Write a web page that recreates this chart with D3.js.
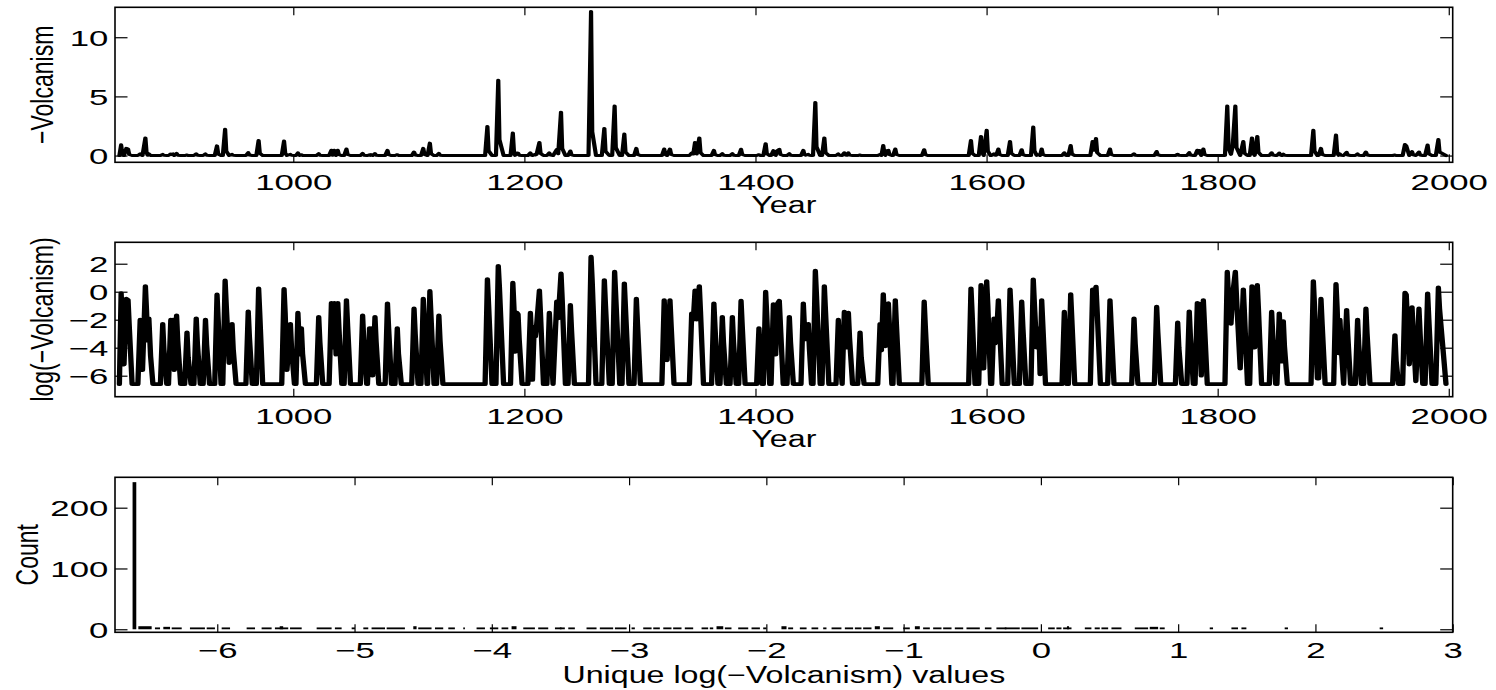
<!DOCTYPE html>
<html><head><meta charset="utf-8">
<script src="https://cdn.jsdelivr.net/npm/d3@7"></script>
<style>body{margin:0;background:#fff}svg{display:block}</style>
</head><body><svg id="c" width="1496" height="690"></svg>
<script>
// log(-Volcanism) series: [year, value] vertices
const logSeries = [
[849.5,-6.6],[851,-0.1],[852,-2.0],[853.5,-5.2],[855.5,-0.5],[857,-0.6],[858,-2.4],[860.5,-6.6],
[865.5,-6.6],[867.5,-2.0],[868.5,-3.5],[869.5,-5.6],[872,0.4],[873,-1.4],[874,-3.5],[875,-1.9],[876.5,-4.6],[878.5,-6.6],
[885,-6.6],[887,-2.3],[888,-4.1],[890.5,-6.6],
[892,-6.6],[894,-2.0],[895,-2.6],[896,-2.0],[897,-5.6],[899,-1.7],[900,-3.5],[902.5,-6.6],
[906,-6.6],[908,-2.9],[909,-4.7],[911.5,-6.6],
[914,-6.6],[916,-1.9],[917,-3.7],[919.5,-6.6],
[922,-6.6],[924,-2.0],[925,-3.8],[927.5,-6.6],
[932,-6.6],[934,-0.2],[935,-2.0],[937.5,-6.6],
[939,-6.6],[941,0.8],[942,-1.0],[944.5,-5.1],[947,-2.3],[948,-4.1],[950.5,-6.6],
[959,-6.6],[961,-1.4],[962,-3.2],[964.5,-6.6],
[968,-6.6],[970,0.24],[971,-1.6],[973.5,-6.6],
[990,-6.6],[992,0.2],[993,-1.6],[994.5,-5.6],[997.5,-2.3],[998.5,-4.1],[1001,-6.6],
[1002.3,-6.6],[1004,-1.5],[1005.5,-4.5],[1007,-2.6],[1008,-4.4],[1010.5,-6.6],
[1020,-6.6],[1022,-1.8],[1023,-3.6],[1025.5,-6.6],
[1031,-6.6],[1033,-0.8],[1034,-4.0],[1035.5,-0.8],[1037,-4.5],[1038.5,-0.8],[1039.5,-2.6],[1042,-6.6],
[1044,-6.6],[1046,-0.6],[1047,-2.4],[1049.5,-6.6],
[1058,-6.6],[1060,-1.7],[1061,-3.5],[1063.5,-6.6],
[1064.2,-6.6],[1066,-2.6],[1066.7,-3.8],[1067.3,-2.6],[1068.7,-6.0],[1070.7,-1.8],[1071.7,-3.6],[1074,-6.6],
[1079.5,-6.6],[1081.5,-0.83],[1082.5,-2.6],[1085,-6.6],
[1088,-6.6],[1090,-2.6],[1091,-4.4],[1093.5,-6.6],
[1102.5,-6.6],[1104.5,-1.2],[1105.5,-3.0],[1108,-6.6],
[1110.5,-6.6],[1112.5,-0.5],[1113.5,-2.3],[1115.8,-6.6],[1116.2,-6.6],[1118.2,0.05],[1119.2,-1.8],[1121.8,-6.6],
[1124,-6.6],[1126,-1.7],[1127,-3.5],[1129.5,-6.6],
[1166,-6.6],[1168,0.9],[1169,-0.9],[1172,-6.6],
[1175.4,-6.6],[1177.4,1.85],[1178.4,0.3],[1182,-6.6],
[1188,-6.6],[1190,0.64],[1191,-1.2],[1192,-4.3],[1193.5,-1.5],[1194.5,-1.6],[1195.5,-3.4],[1198,-6.6],
[1203,-6.6],[1205.2,-1.5],[1206.2,-3.3],[1207,-6.3],[1208.5,-2.5],[1209.5,-3.2],[1210.5,-2.5],[1213,0.1],[1214,-1.7],[1216.5,-6.6],
[1219.5,-6.6],[1221.6,-1.5],[1222.6,-3.3],[1224.8,-6.6],[1228,-0.7],[1229.3,-1.9],[1231.7,1.3],[1232.7,-0.5],[1235.5,-6.6],
[1237.8,-6.6],[1239.8,-0.95],[1240.8,-2.75],[1243.3,-6.6],
[1255.5,-6.6],[1257.7,2.5],[1258.7,0.7],[1262,-6.6],
[1267,-6.6],[1269.2,0.83],[1270.2,-1.0],[1273.5,-6.6],
[1276,-6.6],[1278.1,1.43],[1279.1,-0.4],[1282.5,-6.6],
[1284.5,-6.6],[1286.5,0.6],[1287.5,-1.2],[1290.5,-6.6],
[1294.9,-6.6],[1296.9,-0.5],[1297.9,-2.3],[1300.4,-6.6],
[1319,-6.6],[1321,-0.6],[1322,-2.4],[1323.5,-4.9],[1326,-0.6],[1327,-2.4],[1329.5,-6.6],
[1342.8,-6.6],[1344.8,-1.55],[1346.2,-2.0],[1347.7,0.1],[1349.1,-2.0],[1351.4,0.4],[1352.4,-1.4],[1355,-6.6],
[1362,-6.6],[1364,-0.83],[1365,-2.6],[1367.5,-6.6],
[1369.3,-6.6],[1371.3,-1.8],[1372.3,-3.6],[1374.8,-6.6],
[1378,-6.6],[1380,-1.8],[1381,-3.6],[1383.3,-6.6],
[1385.5,-6.6],[1387.5,-0.64],[1388.5,-2.4],[1391,-6.6],
[1401,-6.6],[1403,-2.6],[1404,-4.4],[1405.5,-6.6],[1406.8,-6.6],[1408.8,0.0],[1409.8,-1.8],[1412.3,-6.6],[1413.5,-6.6],[1415.5,-0.88],[1416.5,-2.6],[1417.5,-4.5],[1418.7,-0.9],[1420.6,-0.64],[1421.6,-2.4],[1424,-6.6],
[1427.3,-6.6],[1429.3,-1.8],[1430.3,-3.6],[1432.8,-6.6],
[1439.4,-6.6],[1441.4,-0.83],[1442.4,-2.6],[1443.5,-3.4],[1445.7,-2.3],[1446.7,-4.1],[1448.5,-6.6],
[1449.8,-6.6],[1451.8,1.5],[1452.8,-0.3],[1456,-6.6],
[1457.6,-6.6],[1459.6,0.4],[1460.6,-1.4],[1463.5,-6.6],
[1469.7,-6.6],[1471.7,-2.0],[1472.7,-3.8],[1475,-6.6],[1476.9,-1.43],[1478,-3.2],[1479,-4.0],[1480.4,-1.5],[1481.4,-3.3],[1484,-6.6],
[1488.5,-6.6],[1490.5,-2.9],[1491.5,-4.7],[1494,-6.6],
[1505.8,-6.6],[1507.8,-2.3],[1509,-4.2],[1510.6,-0.17],[1511.6,-2.0],[1512.5,-3.9],[1513.5,-0.9],[1515,-0.83],[1516,-2.6],[1518,-6.6],
[1519,-6.6],[1521,-0.6],[1522,-2.4],[1524.5,-6.6],
[1544,-6.6],[1546,-0.7],[1547,-2.5],[1549.5,-6.6],
[1584.5,-6.6],[1586.5,0.24],[1587.5,-1.6],[1590,-6.6],
[1593.2,-6.6],[1595.2,0.48],[1596.2,-1.3],[1597.5,-5.5],[1600.1,0.76],[1601.1,-1.0],[1603.5,-6.6],[1604.4,-6.6],[1606.4,-1.9],[1607.4,-3.7],[1608.4,-3.5],[1610.2,-0.6],[1611.2,-2.4],[1613.5,-6.6],
[1618.3,-6.6],[1620.3,0.17],[1621.3,-1.6],[1624,-6.6],
[1628.4,-6.6],[1630.4,-0.7],[1631.4,-2.5],[1634,-6.6],
[1638.4,-6.6],[1640.4,0.88],[1641.4,-0.9],[1643.3,-4.0],[1645.3,-2.6],[1646.3,-5.9],[1647.7,-0.6],[1648.7,-2.4],[1651,-6.6],
[1665.3,-6.6],[1667.3,-1.43],[1668.3,-3.2],[1669.5,-6.6],[1670.8,-6.6],[1672.8,-0.17],[1673.8,-2.0],[1676.3,-6.6],
[1689.8,-6.6],[1691.8,0.17],[1693,-0.8],[1694.7,0.36],[1695.7,-1.4],[1698.5,-6.6],
[1704.8,-6.6],[1706.8,-0.6],[1707.8,-2.4],[1710.3,-6.6],
[1725.6,-6.6],[1727.6,-1.9],[1728.6,-3.7],[1731,-6.6],
[1745.2,-6.6],[1747.2,-1.07],[1748.2,-2.9],[1750.7,-6.6],
[1763.4,-6.6],[1765.4,-2.2],[1766.4,-4.0],[1768.9,-6.6],
[1773.4,-6.6],[1775.4,-1.4],[1776.4,-3.2],[1778.9,-6.6],
[1780.4,-6.6],[1782.4,-0.8],[1783.3,-1.6],[1784.1,-0.85],[1785.8,-6.0],[1787.6,-0.6],[1788.6,-2.4],[1791,-6.6],
[1806.3,-6.6],[1808.3,1.43],[1809.5,-0.5],[1811.5,-2.3],[1813,-0.2],[1815.3,1.43],[1816.3,-0.4],[1819.5,-5.5],[1822.2,0.17],[1823.2,-1.6],[1825.8,-6.6],[1827.7,-6.6],[1829.7,0.4],[1830.7,-1.4],[1832,-4.0],[1834.3,0.48],[1835.3,-1.3],[1838,-6.6],
[1844.7,-6.6],[1846.7,-1.43],[1847.7,-3.2],[1850.2,-6.6],
[1851.3,-6.6],[1853.3,-1.55],[1854.5,-3.4],[1855.5,-5.0],[1856.8,-2.1],[1857.8,-3.9],[1860.3,-6.6],
[1880.8,-6.6],[1882.8,0.76],[1883.8,-1.0],[1886.3,-6.2],[1887.4,-6.2],[1889.4,-0.5],[1890.4,-2.3],[1893,-6.6],
[1900.4,-6.6],[1902.4,0.55],[1903.4,-1.2],[1904.6,-4.4],[1905.8,-2.0],[1906.8,-3.8],[1909,-6.6],[1911.6,-1.3],[1912.6,-3.1],[1915,-6.6],
[1919.1,-6.6],[1921.1,-2.0],[1922.1,-3.8],[1924.5,-6.6],[1926.3,-6.6],[1928.3,-1.2],[1929.3,-3.0],[1931.8,-6.6],
[1951.4,-6.6],[1953.4,-3.1],[1954.4,-4.9],[1956.5,-6.6],
[1960.1,-6.6],[1962.1,-0.07],[1963.2,-0.2],[1965.8,-5.2],[1968.2,-1.1],[1969.2,-2.9],[1971.5,-6.4],[1974.2,-1.2],[1975.2,-3.0],[1977.5,-6.6],[1979.5,-6.6],[1981.7,-0.12],[1982.7,-1.9],[1985.5,-6.6],[1988.8,-6.6],[1991,0.3],[1992,-1.2],[1997.6,-6.6]
];

// histogram of unique log(-Volcanism) values: [from, to, count]
const histBins = [
[-6.617,-6.59,242],
[-6.575,-6.478,5],[-6.454,-6.417,3],[-6.393,-6.344,4],[-6.332,-6.259,3],[-6.199,-6.09,3],[-6.077,-6.017,3],
[-5.968,-5.907,3],[-5.786,-5.725,3],[-5.677,-5.604,3],[-5.58,-5.483,3],[-5.545,-5.52,5],[-5.47,-5.385,3],
[-5.276,-5.167,3],[-5.143,-5.094,3],[-5.021,-4.997,3],[-4.936,-4.9,3],[-4.876,-4.778,3],[-4.766,-4.633,3],
[-4.572,-4.548,5],[-4.536,-4.439,3],[-4.414,-4.354,3],[-4.317,-4.269,3],[-4.208,-4.196,3],[-4.111,-4.05,3],
[-4.014,-3.953,3],[-3.929,-3.88,3],[-3.856,-3.82,5],[-3.771,-3.686,3],[-3.662,-3.589,3],[-3.54,-3.492,3],
[-3.504,-3.468,3],[-3.443,-3.395,3],[-3.31,-3.237,3],[-3.213,-3.116,3],[-3.103,-3.018,3],[-2.982,-2.958,3],
[-2.897,-2.836,3],[-2.824,-2.776,3],[-2.751,-2.691,3],[-2.679,-2.618,3],[-2.594,-2.533,3],[-2.472,-2.424,3],
[-2.412,-2.387,3],[-2.363,-2.314,5],[-2.302,-2.254,3],[-2.205,-2.132,3],[-2.108,-2.047,3],[-2.023,-1.999,3],
[-1.89,-1.853,5],[-1.841,-1.805,3],[-1.756,-1.707,3],[-1.671,-1.622,3],[-1.586,-1.562,3],[-1.525,-1.453,3],
[-1.428,-1.368,3],[-1.355,-1.307,3],[-1.295,-1.234,3],[-1.21,-1.173,5],[-1.149,-1.076,3],[-1.003,-0.955,3],
[-0.918,-0.882,5],[-0.858,-0.809,3],[-0.785,-0.724,3],[-0.712,-0.651,3],[-0.627,-0.566,3],[-0.542,-0.445,3],
[-0.408,-0.36,3],[-0.324,-0.251,3],[-0.263,-0.154,3],[-0.142,-0.02,3],[0.053,0.101,3],[0.113,0.15,3],
[0.162,0.223,3],[0.19,0.205,5],[0.32,0.368,3],[0.392,0.429,3],[0.441,0.49,3],[0.514,0.587,3],
[0.684,0.781,3],[0.793,0.854,4],[0.866,0.902,3],[1.23,1.254,3],[1.388,1.436,3],[1.461,1.497,3],
[1.776,1.8,3],[2.468,2.493,3]
];

const yearTicks = [1000,1200,1400,1600,1800,2000];
const volcTicks = [0,5,10];
const logTicks = [-6,-4,-2,0,2];
const histXTicks = [-6,-5,-4,-3,-2,-1,0,1,2,3];
const histYTicks = [0,100,200];
const xTitleYear = "Year";
const yTitleTop = "\u2212Volcanism";
const yTitleMid = "log(\u2212Volcanism)";
const xTitleHist = "Unique log(\u2212Volcanism) values";
const yTitleHist = "Count";

const svg = d3.select('#c');
const FONT = '"Liberation Sans", Arial, Helvetica, sans-serif';
const TSX = 1.58, LSX = 1.4, SX = 1.4; // horizontal stretch of the original figure
const L = 115, R = 1452.7;
const P1 = [7.3, 162.3], P2 = [242.3, 396.7], P3 = [477.3, 632.3];

const xYear = d3.scaleLinear().domain([845.7, 2003.4]).range([L, R]);
const yTop = d3.scaleLinear().domain([-0.57, 12.53]).range([P1[1], P1[0]]);
const yMid = d3.scaleLinear().domain([-7.5, 3.53]).range([P2[1], P2[0]]);
const xHist = d3.scaleLinear().domain([-6.745, 3]).range([L, R]);
const yHist = d3.scaleLinear().domain([-5, 250]).range([P3[1], P3[0]]);

// data lines drawn inside a horizontally stretched group so the strokes are wider on vertical segments
const gs = svg.append('g').attr('transform', `scale(${SX},1)`);
gs.append('path').datum(logSeries)
  .attr('d', d3.line().x(d => xYear(d[0]) / SX).y(d => yTop(Math.exp(d[1]))))
  .attr('fill','none').attr('stroke','#000').attr('stroke-width',3).attr('stroke-linejoin','round').attr('stroke-linecap','round');
gs.append('path').datum(logSeries)
  .attr('d', d3.line().x(d => xYear(d[0]) / SX).y(d => yMid(d[1])))
  .attr('fill','none').attr('stroke','#000').attr('stroke-width',3.8).attr('stroke-linejoin','round').attr('stroke-linecap','round');
svg.append('g').selectAll('rect').data(histBins).join('rect')
  .attr('x', d => xHist(d[0])).attr('width', d => Math.max(1, xHist(d[1]) - xHist(d[0])))
  .attr('y', d => yHist(d[2])).attr('height', d => yHist(0) - yHist(d[2]))
  .attr('fill','#000');

function axes(x, y, p, xt, yt, xLabOff) {
  const tk = g => { g.select('.domain').remove(); g.selectAll('line').attr('stroke','#000').attr('stroke-width',1.2); g.attr('font-family',FONT).attr('font-size',22); };
  const b = svg.append('g').attr('transform',`translate(0,${p[1]})`)
    .call(d3.axisBottom(x).tickValues(xt).tickSizeInner(-8).tickSizeOuter(0).tickFormat(d3.format('d'))).call(tk);
  b.selectAll('text').attr('y', xLabOff).attr('dy', null).attr('fill','#000').attr('transform',`scale(${TSX},1)`);
  svg.append('g').attr('transform',`translate(0,${p[0]})`)
    .call(d3.axisTop(x).tickValues(xt).tickSizeInner(-8).tickSizeOuter(0).tickFormat('')).call(tk);
  const l = svg.append('g').attr('transform',`translate(${L},0)`)
    .call(d3.axisLeft(y).tickValues(yt).tickSizeInner(-12.5).tickSizeOuter(0).tickFormat(d3.format('d'))).call(tk);
  l.selectAll('text').attr('x', -6.7 / TSX).attr('dy','0.36em').attr('fill','#000').attr('transform',`scale(${TSX},1)`);
  svg.append('g').attr('transform',`translate(${R},0)`)
    .call(d3.axisRight(y).tickValues(yt).tickSizeInner(-12.5).tickSizeOuter(0).tickFormat('')).call(tk);
  svg.append('rect').attr('x',L).attr('y',p[0]).attr('width',R-L).attr('height',p[1]-p[0])
    .attr('fill','none').attr('stroke','#000').attr('stroke-width',1.6);
}
axes(xYear, yTop, P1, yearTicks, volcTicks, 27.7);
axes(xYear, yMid, P2, yearTicks, logTicks, 27.3);
axes(xHist, yHist, P3, histXTicks, histYTicks, 26);

function xTitle(t, yb) {
  svg.append('text').attr('transform',`translate(${(L+R)/2},${yb}) scale(${LSX},1)`)
    .attr('text-anchor','middle').attr('font-family',FONT).attr('font-size',23).attr('fill','#000').text(t);
}
function yTitle(t, xb, yc) {
  svg.append('text').attr('transform',`translate(${xb},${yc}) scale(${LSX},1) rotate(-90)`)
    .attr('text-anchor','middle').attr('font-family',FONT).attr('font-size',23).attr('fill','#000').text(t);
}
xTitle(xTitleYear, 213.3);
xTitle(xTitleYear, 446.7);
xTitle(xTitleHist, 683.3);
yTitle(yTitleTop, 53.3, (P1[0]+P1[1])/2);
yTitle(yTitleMid, 53.3, (P2[0]+P2[1])/2);
yTitle(yTitleHist, 38.3, (P3[0]+P3[1])/2);
</script></body></html>
